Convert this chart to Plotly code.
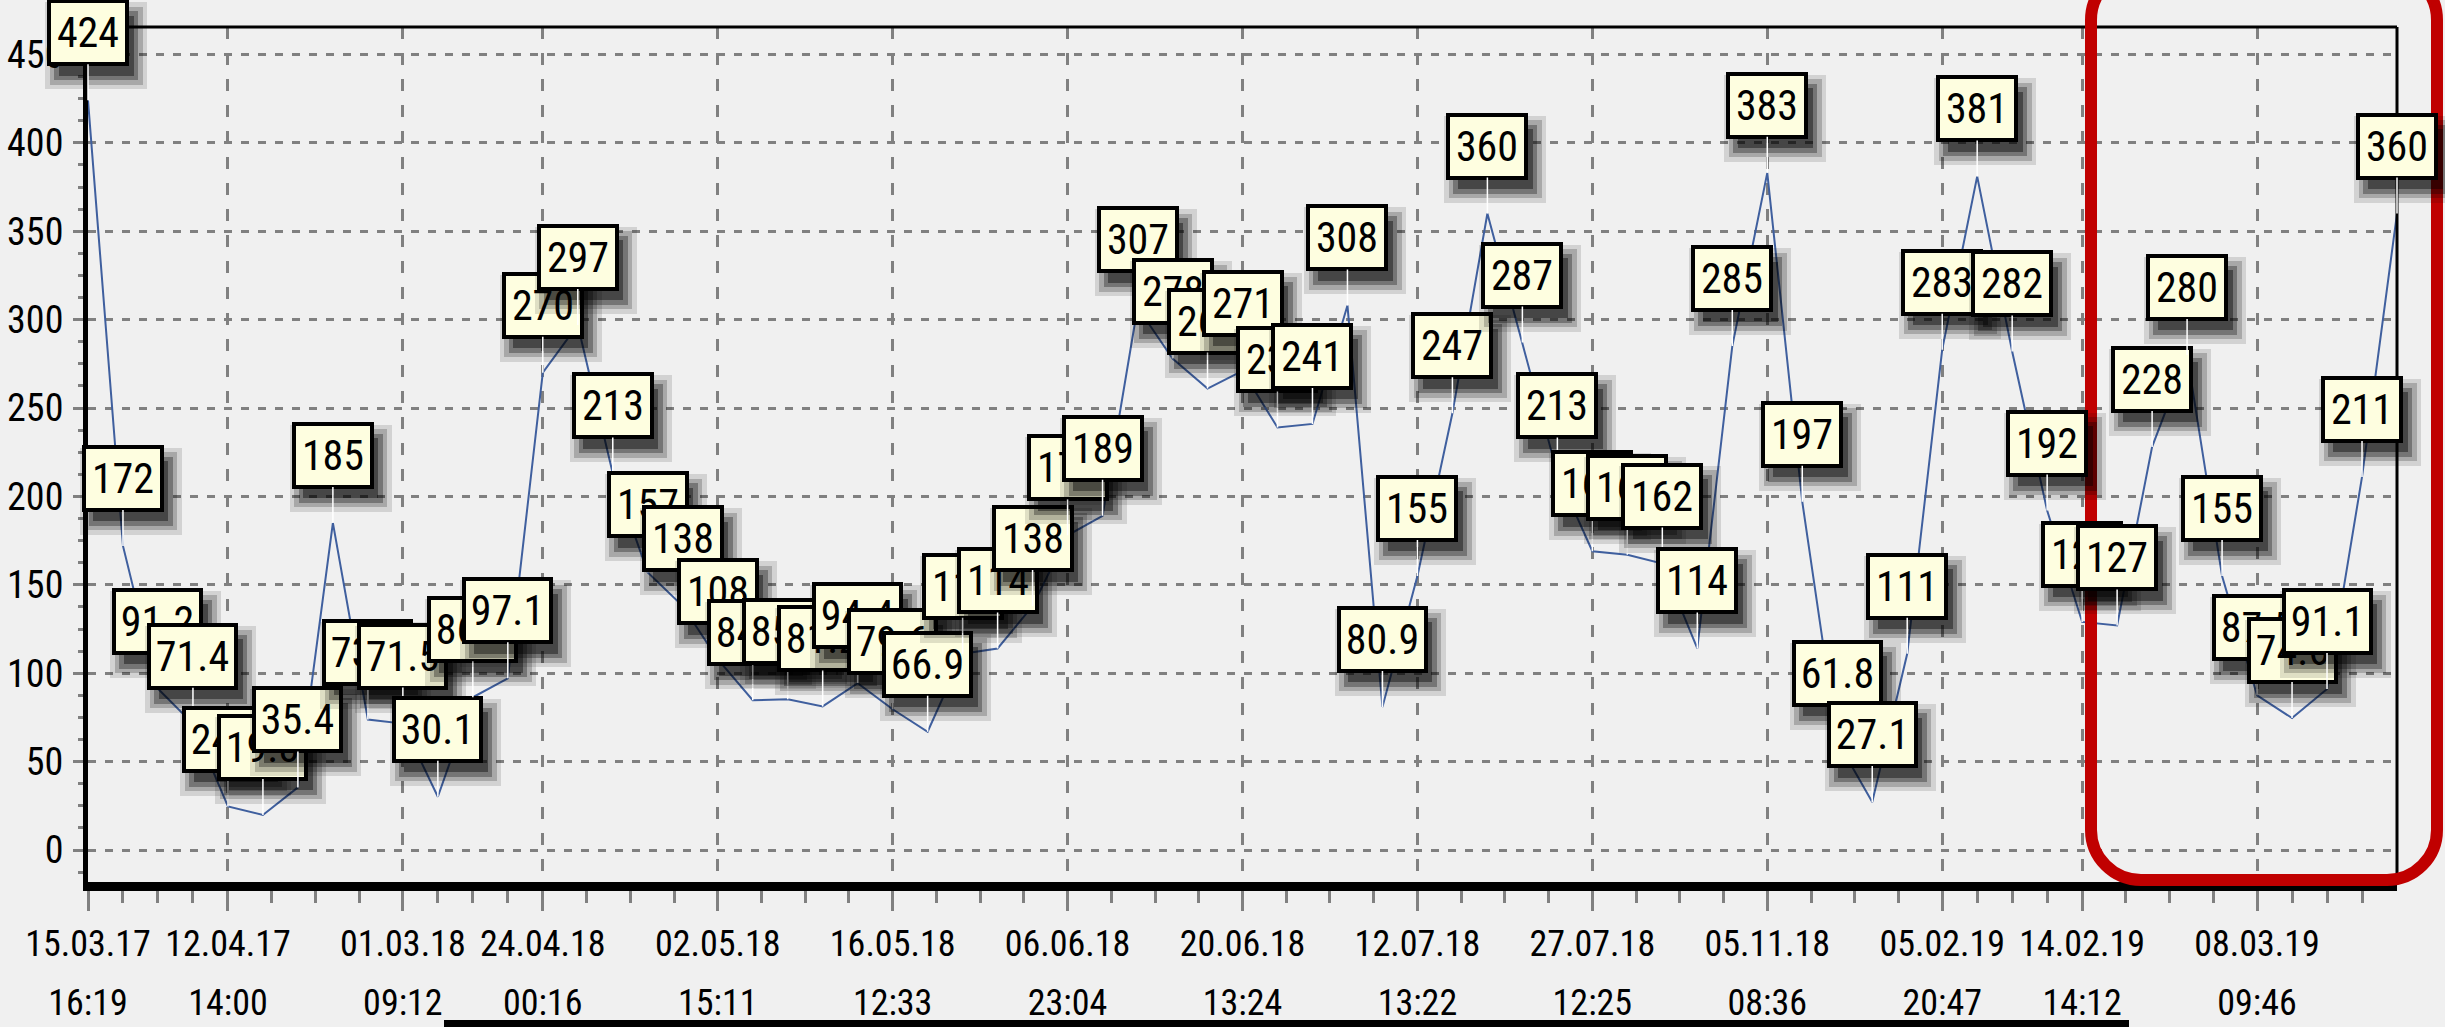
import plotly.graph_objects as go

# ---------------- data ----------------
values = [424, 172, 91.2, 71.4, 24.6, 19.8, 35.4, 185, 73.8, 71.5,
          30.1, 86.4, 97.1, 270, 297, 213, 157, 138, 108, 84.7,
          85.3, 81.2, 94.4, 79.6, 66.9, 111, 114, 138, 178, 189,
          307, 278, 261, 271, 239, 241, 308, 80.9, 155, 247,
          360, 287, 213, 169, 167, 162, 114, 285, 383, 197,
          61.8, 27.1, 111, 283, 381, 282, 192, 129, 127, 228,
          280, 155, 87.5, 74.6, 91.1, 211, 360]
positions = list(range(len(values)))

tick_idx = [0, 4, 9, 13, 18, 23, 28, 33, 38, 43, 48, 53, 57, 62]
tick_dates = ["15.03.17", "12.04.17", "01.03.18", "24.04.18", "02.05.18", "16.05.18",
              "06.06.18", "20.06.18", "12.07.18", "27.07.18", "05.11.18", "05.02.19",
              "14.02.19", "08.03.19"]
tick_times = ["16:19", "14:00", "09:12", "00:16", "15:11", "12:33", "23:04",
              "13:24", "13:22", "12:25", "08:36", "20:47", "14:12", "09:46"]
y_ticks = [0, 50, 100, 150, 200, 250, 300, 350, 400, 450]

# ---------------- geometry ----------------
W_PX, H_PX = 2445, 1027
L, R, T, B = 88, 2397, 27, 882
PW, PH = R - L, B - T

def px(x):
    return (x - L) / PW

def py(y):
    return (B - y) / PH

FONT = "Roboto Condensed, Liberation Sans, Arial"

minor_vals = []
for a, b in zip(tick_idx[:-1], tick_idx[1:]):
    minor_vals += [a + (b - a) * k / 4 for k in range(1, 4)]
minor_vals += [tick_idx[-1] + k for k in range(1, 4)]

fig = go.Figure()
fig.add_trace(go.Scatter(x=positions, y=values, mode="lines",
                         line=dict(color="#3f5f9e", width=2),
                         hoverinfo="skip", showlegend=False))
fig.add_trace(go.Scatter(x=positions, y=values, mode="lines", xaxis="x2",
                         line=dict(width=0), opacity=0,
                         hoverinfo="skip", showlegend=False))

# ---------------- value labels with shadows ----------------
annotations = []
BOX_H = 59
OFF = 67.5
for i, v in enumerate(values):
    txt = f"{v:.0f}" if v >= 100 else f"{v:.1f}"
    bw = 74 if len(txt) <= 3 else 83
    for grow, alpha in [(20, 0.12), (11, 0.20), (2, 0.30), (-7, 0.40)]:
        annotations.append(dict(
            x=i, y=v, xref="x", yref="y", text=" ", showarrow=False,
            width=bw + 8 + grow, height=BOX_H + 8 + grow,
            bgcolor=f"rgba(0,0,0,{alpha})", borderwidth=0, borderpad=0,
            xshift=8, yshift=OFF - 13))
    annotations.append(dict(
        x=i, y=v, xref="x", yref="y", text=txt,
        showarrow=True, ax=0, ay=-OFF, arrowhead=0, arrowwidth=1.5,
        arrowcolor="#ffffff", standoff=0,
        width=bw, height=BOX_H, bgcolor="#fefee0", bordercolor="#000000",
        borderwidth=4, borderpad=0,
        font=dict(family=FONT, size=42, color="#000000")))

# ---------------- shapes ----------------
def rounded_rect(x0, y0, x1, y1, r):
    c = 0.5523 * r
    pts = [
        ("M", [(x0 + r, y0)]),
        ("L", [(x1 - r, y0)]),
        ("C", [(x1 - r + c, y0), (x1, y0 + r - c), (x1, y0 + r)]),
        ("L", [(x1, y1 - r)]),
        ("C", [(x1, y1 - r + c), (x1 - r + c, y1), (x1 - r, y1)]),
        ("L", [(x0 + r, y1)]),
        ("C", [(x0 + r - c, y1), (x0, y1 - r + c), (x0, y1 - r)]),
        ("L", [(x0, y0 + r)]),
        ("C", [(x0, y0 + r - c), (x0 + r - c, y0), (x0 + r, y0)]),
    ]
    s = ""
    for cmd, ps in pts:
        s += cmd + " ".join(f"{px(a):.5f},{py(b):.5f}" for a, b in ps) + " "
    return s + "Z"

shapes = [
    dict(type="line", xref="paper", yref="paper", x0=0, x1=1, y0=1, y1=1,
         line=dict(color="#000000", width=3)),
    dict(type="line", xref="paper", yref="paper", x0=1, x1=1, y0=0, y1=1,
         line=dict(color="#000000", width=3)),
    dict(type="rect", xref="paper", yref="paper", x0=px(444), x1=px(2129),
         y0=py(1020), y1=py(1032), fillcolor="#000000", line=dict(width=0),
         layer="below"),
    dict(type="path", xref="paper", yref="paper",
         path=rounded_rect(2091, -30, 2437, 880, 50),
         line=dict(color="#c00000", width=12), layer="above"),
]

fig.update_layout(
    width=W_PX, height=H_PX, template="none",
    margin=dict(l=L, r=W_PX - R, t=T, b=H_PX - B, pad=0, autoexpand=False),
    paper_bgcolor="#f0f0f0", plot_bgcolor="#f0f0f0",
    showlegend=False,
    xaxis=dict(range=[0, len(values) - 1], tickmode="array", tickvals=tick_idx,
               ticktext=tick_dates, tickangle=0, automargin=False,
               showline=True, linecolor="#000000", linewidth=9,
               ticks="outside", ticklen=20, tickwidth=3, tickcolor="#808080",
               tickfont=dict(family=FONT, size=36, color="#000000"),
               ticklabelstandoff=2,
               showgrid=True, gridcolor="#808080", gridwidth=3, griddash="12px,14px",
               zeroline=False,
               minor=dict(tickmode="array", tickvals=minor_vals, ticks="outside",
                          ticklen=12, tickwidth=3, tickcolor="#808080", showgrid=False)),
    xaxis2=dict(range=[0, len(values) - 1], overlaying="x", anchor="y", side="bottom",
                tickmode="array", tickvals=tick_idx, ticktext=tick_times, tickangle=0,
                automargin=False, showline=False, showgrid=False, zeroline=False,
                ticks="", ticklabelstandoff=96,
                tickfont=dict(family=FONT, size=36, color="#000000")),
    yaxis=dict(range=[-18.1, 465.5], tickmode="array", tickvals=y_ticks,
               automargin=False, showline=True, linecolor="#000000", linewidth=5,
               ticks="outside", ticklen=10, tickwidth=3, tickcolor="#808080",
               tickfont=dict(family=FONT, size=38, color="#000000"),
               ticklabelstandoff=2,
               showgrid=True, gridcolor="#808080", gridwidth=3, griddash="8px,9px",
               zeroline=False,
               minor=dict(dtick=12.5, tick0=0, ticks="outside", ticklen=5, tickwidth=3,
                          tickcolor="#808080", showgrid=False)),
    annotations=annotations,
    shapes=shapes,
)

fig.write_html("out.html", config={"displayModeBar": False},
               post_script="document.body.style.margin='0px';")
